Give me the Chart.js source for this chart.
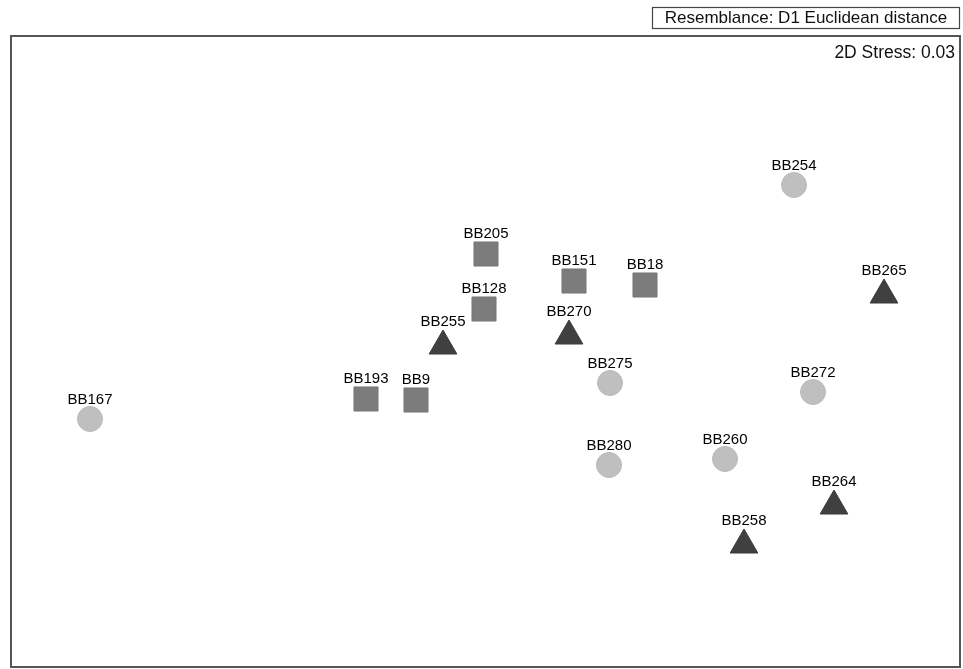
<!DOCTYPE html>
<html>
<head>
<meta charset="utf-8">
<script src="https://cdn.jsdelivr.net/npm/chart.js@4"></script>
<style>
html,body{margin:0;padding:0;background:#fff;}
#wrap{position:relative;width:963px;height:669px;}
</style>
</head>
<body>
<div id="wrap"><canvas id="c" width="963" height="669"></canvas></div>
<script>
// MDS coordinates (arbitrary units)
const circleLabels = ["BB167","BB254","BB275","BB272","BB280","BB260"];
const circleX = [79, 783, 599, 802, 598, 714];
const circleY = [248, 482, 284, 275, 202, 208];

const squareLabels = ["BB205","BB151","BB18","BB128","BB193","BB9"];
const squareX = [475, 563, 634, 473, 355, 405];
const squareY = [413, 386, 382, 358, 268, 267];

const triangleLabels = ["BB255","BB270","BB265","BB264","BB258"];
const triangleX = [432, 558, 873, 823, 733];
const triangleY = [321, 331, 372, 161, 122];

const resemblanceText = "Resemblance: D1 Euclidean distance";
const stressText = "2D Stress: 0.03";

function pts(xs, ys){ return xs.map((x,i)=>({x:x, y:ys[i]})); }

const labelPlugin = {
  id: 'labels',
  afterDatasetsDraw(chart){
    const ctx = chart.ctx;
    ctx.save();
    ctx.font = '15px "Liberation Sans", Arial, sans-serif';
    ctx.fillStyle = '#000';
    ctx.textAlign = 'center';
    ctx.textBaseline = 'alphabetic';
    chart.data.datasets.forEach((ds, di) => {
      const meta = chart.getDatasetMeta(di);
      const off = ds.pointStyle === 'triangle' ? 20 : (ds.pointStyle === 'rect' ? 16 : 15);
      meta.data.forEach((el, i) => {
        ctx.fillText(ds.labelsText[i], el.x, el.y - off);
      });
    });
    ctx.restore();
  },
  afterDraw(chart){
    const ctx = chart.ctx;
    const a = chart.chartArea;
    ctx.save();
    ctx.strokeStyle = '#555';
    ctx.lineWidth = 2;
    ctx.strokeRect(a.left, a.top, a.right - a.left, a.bottom - a.top);
    // stress text
    ctx.font = '17.5px "Liberation Sans", Arial, sans-serif';
    ctx.fillStyle = '#111';
    ctx.textAlign = 'right';
    ctx.textBaseline = 'middle';
    ctx.fillText(stressText, a.right - 5, a.top + 17);
    // resemblance box
    ctx.font = '17px "Liberation Sans", Arial, sans-serif';
    ctx.textAlign = 'left';
    const w = ctx.measureText(resemblanceText).width;
    const bx = 652.5, by = 7.5, bw = 959 - 652;
    ctx.lineWidth = 1.2;
    ctx.strokeStyle = '#444';
    ctx.strokeRect(bx, by, bw, 21);
    ctx.fillText(resemblanceText, bx + (bw - w) / 2, by + 11);
    ctx.restore();
  }
};

new Chart(document.getElementById('c'), {
  type: 'scatter',
  data: {
    datasets: [
      { label: 'circle', data: pts(circleX, circleY), labelsText: circleLabels,
        pointStyle: 'circle', pointRadius: 12.5, pointHoverRadius: 12.5,
        backgroundColor: '#bfbfbf', borderColor: '#b8b8b8', borderWidth: 1 },
      { label: 'square', data: pts(squareX, squareY), labelsText: squareLabels,
        pointStyle: 'rect', pointRadius: 17, pointHoverRadius: 17,
        backgroundColor: '#7c7c7c', borderColor: '#777', borderWidth: 1 },
      { label: 'triangle', data: pts(triangleX, triangleY), labelsText: triangleLabels,
        pointStyle: 'triangle', pointRadius: 16, pointHoverRadius: 16,
        backgroundColor: '#404040', borderColor: '#3a3a3a', borderWidth: 1 }
    ]
  },
  options: {
    responsive: false,
    animation: false,
    layout: { autoPadding: false, padding: { left: 11, top: 36, right: 3, bottom: 2 } },
    plugins: { legend: { display: false }, tooltip: { enabled: false } },
    scales: {
      x: { type: 'linear', min: 0, max: 949, display: false },
      y: { type: 'linear', min: 0, max: 631, display: false }
    }
  },
  plugins: [labelPlugin]
});
</script>
</body>
</html>
